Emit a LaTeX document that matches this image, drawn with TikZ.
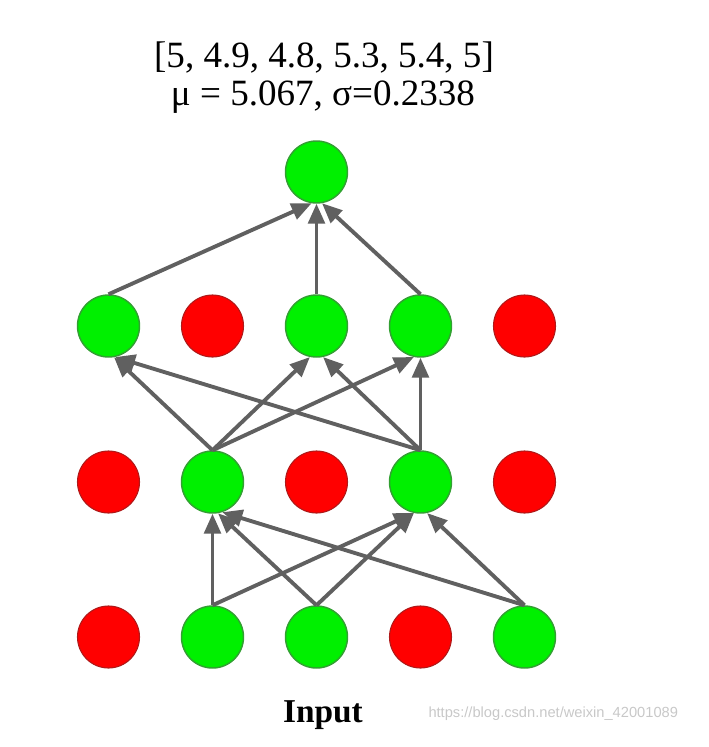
\documentclass[tikz,border=0pt]{standalone}
\usepackage{fontspec}
\setmainfont{Liberation Serif}
\newfontfamily\markfont{Liberation Sans}
\usetikzlibrary{arrows.meta}

\tikzset{every picture/.style={line width=0.75pt}}
\tikzset{
  keep/.style={circle, inner sep=0pt, minimum size=46.5pt, line width=1.1pt,
    draw={rgb, 255:red, 50; green, 160; blue, 50 }, fill={rgb, 255:red, 0; green, 240; blue, 0 }},
  drop/.style={circle, inner sep=0pt, minimum size=46.5pt, line width=0.8pt,
    draw={rgb, 255:red, 175; green, 25; blue, 25 }, fill={rgb, 255:red, 255; green, 0; blue, 0 }},
  link/.style={draw={rgb, 255:red, 96; green, 96; blue, 96 }, line width=2.9pt,
    -{Triangle[length=15pt,width=12.5pt]}}
}

\begin{document}
\begin{tikzpicture}[x=0.75pt,y=0.75pt,yscale=-1,xscale=1]
    \useasboundingbox (0,0) rectangle (709,747);

    %Circles, output
    \node [keep] (out) at (316.5,172) {};
    %Circles, layer 2
    \node [keep] (h1) at (108.5,326) {};
    \node [drop] (h2) at (212.5,326) {};
    \node [keep] (h3) at (316.5,326) {};
    \node [keep] (h4) at (420.5,326) {};
    \node [drop] (h5) at (524.5,326) {};
    %Circles, layer 1
    \node [drop] (g1) at (108.5,482) {};
    \node [keep] (g2) at (212.5,482) {};
    \node [drop] (g3) at (316.5,482) {};
    \node [keep] (g4) at (420.5,482) {};
    \node [drop] (g5) at (524.5,482) {};
    %Circles, input
    \node [drop] (x1) at (108.5,637) {};
    \node [keep] (x2) at (212.5,637) {};
    \node [keep] (x3) at (316.5,637) {};
    \node [drop] (x4) at (420.5,637) {};
    \node [keep] (x5) at (524.5,637) {};

    %Straight Lines, layer 2 to output
    \draw [link] (h1.north) -- (out.-99) ;
    \draw [link] (h3.north) -- (out.south) ;
    \draw [link] (h4.north) -- (out.-80) ;
    %Straight Lines, layer 1 to layer 2
    \draw [link] (g2.north) -- (h1.-80) ;
    \draw [link] (g2.north) -- (h3.-102) ;
    \draw [link] (g2.north) -- (h4.-102) ;
    \draw [link] (g4.north) -- (h1.-78) ;
    \draw [link] (g4.north) -- (h3.-78) ;
    \draw [link] (g4.north) -- (h4.south) ;
    %Straight Lines, input to layer 1
    \draw [link] (x2.north) -- (g2.south) ;
    \draw [link] (x2.north) -- (g4.-102) ;
    \draw [link] (x3.north) -- (g2.-80) ;
    \draw [link] (x3.north) -- (g4.-102) ;
    \draw [link] (x5.north) -- (g2.-72) ;
    \draw [link] (x5.north) -- (g4.-78) ;

    % Text Node
    \node [anchor=base, inner sep=0pt, font=\fontsize{27.8}{30}\selectfont] (vals) at (324,67) {[5, 4.9, 4.8, 5.3, 5.4, 5]};
    % Text Node
    \node [anchor=base, inner sep=0pt, font=\fontsize{27.8}{30}\selectfont] (stats) at (323,105) {μ = 5.067, σ=0.2338};
    % Text Node
    \node [anchor=base, inner sep=0pt, font=\fontsize{25}{28}\selectfont\bfseries] (input) at (323,722) {Input};
    % Text Node
    \node [anchor=base west, inner sep=0pt, color={rgb, 255:red, 200; green, 200; blue, 200 }, font=\markfont\fontsize{11}{13}\selectfont] (mark) at (428,717) {https://blog.csdn.net/weixin\_42001089};
\end{tikzpicture}
\end{document}
